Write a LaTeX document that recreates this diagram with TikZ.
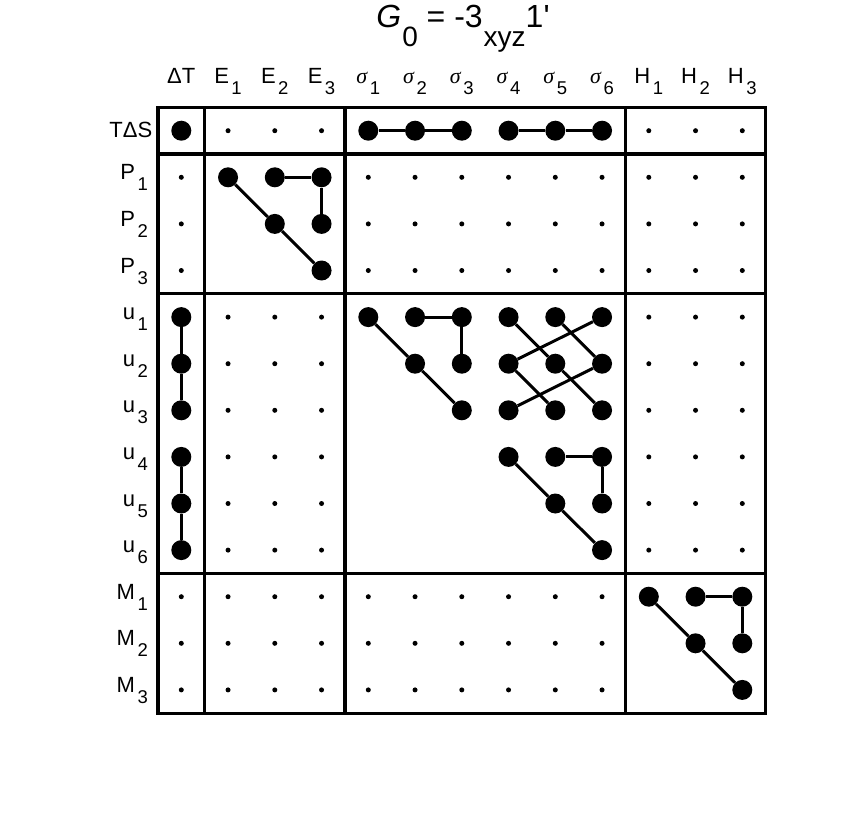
\documentclass[tikz,border=0pt]{standalone}
\usepackage{fontspec}
\setmainfont{Liberation Sans}[Ligatures=TeXOff]
\newfontfamily\sigfont{Liberation Serif}[Ligatures=TeXOff]
\newcommand{\sbx}[1]{\kern2.5pt\raisebox{-11pt}{\fontsize{18.5}{18.5}\selectfont #1}}
\newcommand{\tsb}[1]{\kern1pt\raisebox{-19pt}{\fontsize{28}{28}\selectfont #1}}
\newcommand{\sig}{{\sigfont\itshape σ}}
\begin{document}
\begin{tikzpicture}[x=1pt,y=-1pt,
  big/.style={circle,fill=black,inner sep=0pt,minimum size=20pt},
  small/.style={circle,fill=black,inner sep=0pt,minimum size=5pt},
  link/.style={line width=3pt},
  frame/.style={line width=3.3pt},
  collab/.style={anchor=base,inner sep=0pt,font=\fontsize{22}{22}\selectfont},
  rowlab/.style={anchor=base east,inner sep=0pt,font=\fontsize{22}{22}\selectfont},
  titlelab/.style={anchor=base,inner sep=0pt,font=\fontsize{32}{32}\selectfont}]
\fill[white] (0,0) rectangle (856,812);
\useasboundingbox (0,0) rectangle (856,812);
% title
\node[titlelab] (title) at (463,27) {\itshape G\upshape\tsb{0} = -3\tsb{xyz}1'};
% column labels
\foreach \t [count=\k from 0] in {ΔT,E\sbx{1},E\sbx{2},E\sbx{3},\sig\sbx{1},\sig\sbx{2},\sig\sbx{3},\sig\sbx{4},\sig\sbx{5},\sig\sbx{6},H\sbx{1},H\sbx{2},H\sbx{3}}
  \node[collab] (c\k) at ({181.3+46.75*\k},83) {\t};
% row labels
\node[rowlab] (r0) at (152.5,137.5) {TΔS};
\foreach \t [count=\k from 1] in {P\sbx{1},P\sbx{2},P\sbx{3},u\sbx{1},u\sbx{2},u\sbx{3},u\sbx{4},u\sbx{5},u\sbx{6},M\sbx{1},M\sbx{2},M\sbx{3}}
  \node[rowlab] (r\k) at (148,{130.7+46.6*\k+2.5}) {\t};
% frame
\draw[frame] (158,107.4) rectangle (765.7,713.3);
\draw[frame] (204.7,107.4) -- (204.7,713.3);
\draw[frame] (344.9,107.4) -- (344.9,713.3);
\draw[frame] (625.4,107.4) -- (625.4,713.3);
\draw[frame] (158,154) -- (765.7,154);
\draw[frame] (158,293.8) -- (765.7,293.8);
\draw[frame] (158,573.4) -- (765.7,573.4);
% small dots
\foreach \i/\j in {1/0,2/0,3/0,10/0,11/0,12/0}
  \node[small] (d\i-\j) at ({181.3+46.75*\i},{130.7+46.6*\j}) {};
\foreach \j in {1,2,3}
  \foreach \i in {0,4,5,6,7,8,9,10,11,12}
    \node[small] (d\i-\j) at ({181.3+46.75*\i},{130.7+46.6*\j}) {};
\foreach \j in {4,...,9}
  \foreach \i in {1,2,3,10,11,12}
    \node[small] (d\i-\j) at ({181.3+46.75*\i},{130.7+46.6*\j}) {};
\foreach \j in {10,11,12}
  \foreach \i in {0,...,9}
    \node[small] (d\i-\j) at ({181.3+46.75*\i},{130.7+46.6*\j}) {};
% big dots
\foreach \i/\j in {0/0,4/0,5/0,6/0,7/0,8/0,9/0,
  1/1,2/1,3/1,2/2,3/2,3/3,
  0/4,0/5,0/6,0/7,0/8,0/9,
  4/4,5/4,6/4,5/5,6/5,6/6,
  7/4,8/4,9/4,7/5,8/5,9/5,7/6,8/6,9/6,
  7/7,8/7,9/7,8/8,9/8,9/9,
  10/10,11/10,12/10,11/11,12/11,12/12}
  \node[big] (d\i-\j) at ({181.3+46.75*\i},{130.7+46.6*\j}) {};
% connectors
\draw[link] (d4-0) -- (d5-0) -- (d6-0);
\draw[link] (d7-0) -- (d8-0) -- (d9-0);
\foreach \a/\b in {1/1,4/4,7/7,10/10}{
  \pgfmathtruncatemacro\aa{\a+1}\pgfmathtruncatemacro\aaa{\a+2}
  \pgfmathtruncatemacro\bb{\b+1}\pgfmathtruncatemacro\bbb{\b+2}
  \draw[link] (d\a-\b) -- (d\aa-\bb) -- (d\aaa-\bbb);
  \draw[link] (d\aa-\b) -- (d\aaa-\b) -- (d\aaa-\bb);
}
\draw[link] (d0-4) -- (d0-5) -- (d0-6);
\draw[link] (d0-7) -- (d0-8) -- (d0-9);
\draw[link] (d7-4) -- (d8-5) -- (d9-6);
\draw[link] (d8-4) -- (d9-5);
\draw[link] (d7-5) -- (d8-6);
\draw[link] (d7-5) -- (d9-4);
\draw[link] (d7-6) -- (d9-5);
\end{tikzpicture}
\end{document}
